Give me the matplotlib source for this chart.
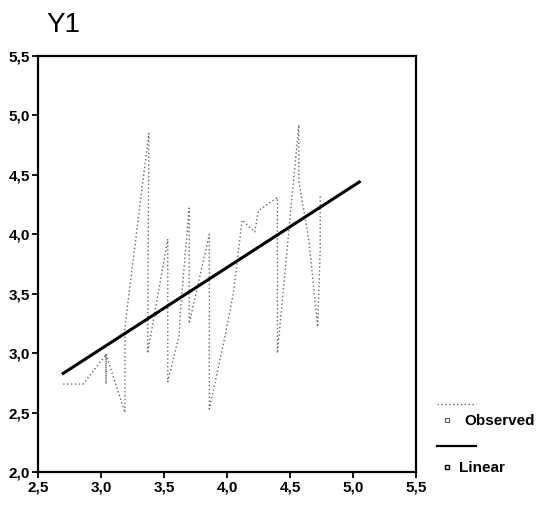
import matplotlib
matplotlib.use("Agg")
import matplotlib.pyplot as plt
from matplotlib.lines import Line2D
from matplotlib.ticker import FuncFormatter
import numpy as np

plt.rcParams['font.family'] = ['Liberation Sans', 'DejaVu Sans']

# observed Y1 values, in x order (repeated x gives the vertical runs)
obs_x = [2.70, 2.86, 3.04, 3.04, 3.04, 3.19, 3.19, 3.38, 3.37, 3.53, 3.53,
         3.62, 3.63, 3.70, 3.70, 3.86, 3.86, 3.98, 4.05, 4.12, 4.22, 4.25,
         4.40, 4.40, 4.57, 4.57, 4.65, 4.72, 4.74, 4.74]
obs_y = [2.74, 2.74, 2.99, 2.74, 2.99, 2.50, 3.22, 4.85, 3.00, 3.96, 2.76,
         3.15, 3.35, 4.22, 3.25, 4.00, 2.53, 3.12, 3.50, 4.12, 4.02, 4.20,
         4.31, 3.00, 4.92, 4.45, 3.95, 3.22, 3.88, 4.34]

# linear fit line
fit_x = [2.70, 5.05]
fit_y = [2.83, 4.44]

ticks = [2.0, 2.5, 3.0, 3.5, 4.0, 4.5, 5.0, 5.5]

fig = plt.figure(figsize=(5.38, 5.07), dpi=100)
ax = fig.add_axes([0.0706, 0.069, 0.7026, 0.8205])

ax.plot(obs_x, obs_y, color='#666666', lw=1.0, ls=(0, (1, 1.8)))
ax.plot(fit_x, fit_y, color='black', lw=2.2)

ax.set_xlim(2.5, 5.5)
ax.set_ylim(2.0, 5.5)
ax.set_xticks(ticks[1:])
ax.set_yticks(ticks)
comma = FuncFormatter(lambda v, p: f'{v:.1f}'.replace('.', ','))
ax.xaxis.set_major_formatter(comma)
ax.yaxis.set_major_formatter(comma)
ax.tick_params(direction='out', length=4, width=1.3, labelsize=11, pad=2)
for lab in ax.get_xticklabels() + ax.get_yticklabels():
    lab.set_fontweight('bold')
for s in ax.spines.values():
    s.set_linewidth(1.6)

fig.text(46 / 538, 1 - 12 / 507, 'Y1', fontsize=20, ha='left', va='top')

# legend drawn at figure level to the right of the plot
fig.add_artist(Line2D([437 / 538, 476 / 538], [1 - 404 / 507] * 2,
                      color='#666666', lw=1.0, ls=(0, (1, 1.8))))
fig.add_artist(Line2D([447 / 538], [1 - 420 / 507], marker='s', ms=3,
                      mfc='white', mec='#555555', mew=0.8))
fig.text(464 / 538, 1 - 421 / 507, 'Observed', fontsize=11, fontweight='bold',
         ha='left', va='center')
fig.add_artist(Line2D([437 / 538, 476 / 538], [1 - 446 / 507] * 2,
                      color='black', lw=1.6))
fig.add_artist(Line2D([447 / 538], [1 - 467 / 507], marker='s', ms=3.5,
                      mfc='white', mec='black', mew=1.0))
fig.text(459 / 538, 1 - 468 / 507, 'Linear', fontsize=11, fontweight='bold',
         ha='left', va='center')

fig.savefig('out.png', dpi=100)
plt.close(fig)
